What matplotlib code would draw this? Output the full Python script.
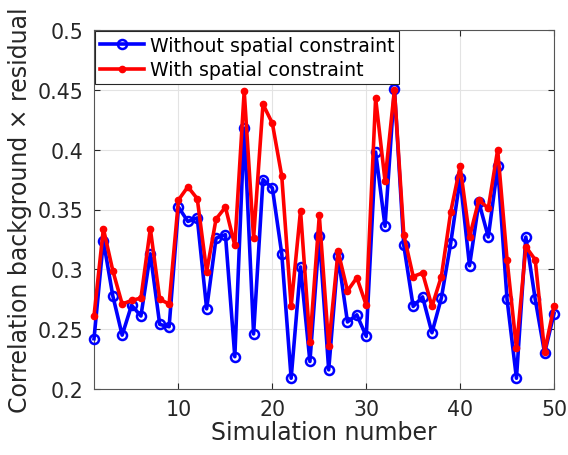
import matplotlib
matplotlib.use("Agg")
import matplotlib.pyplot as plt
import numpy as np

sim = list(range(1, 51))
without_sc = [0.242, 0.324, 0.278, 0.245, 0.270, 0.261, 0.313, 0.254, 0.252, 0.352,
              0.340, 0.343, 0.267, 0.326, 0.329, 0.227, 0.418, 0.246, 0.375, 0.368,
              0.313, 0.209, 0.302, 0.223, 0.328, 0.216, 0.311, 0.256, 0.262, 0.244,
              0.398, 0.336, 0.451, 0.320, 0.269, 0.277, 0.247, 0.276, 0.322, 0.376,
              0.303, 0.356, 0.327, 0.386, 0.275, 0.209, 0.327, 0.275, 0.230, 0.263]
with_sc = [0.261, 0.334, 0.299, 0.271, 0.274, 0.276, 0.334, 0.275, 0.271, 0.358,
           0.369, 0.359, 0.298, 0.342, 0.352, 0.320, 0.449, 0.326, 0.438, 0.422,
           0.378, 0.269, 0.349, 0.239, 0.345, 0.236, 0.315, 0.282, 0.293, 0.270,
           0.443, 0.374, 0.450, 0.329, 0.294, 0.297, 0.269, 0.294, 0.348, 0.386,
           0.327, 0.358, 0.351, 0.400, 0.308, 0.234, 0.319, 0.308, 0.231, 0.269]
xticks = [10, 20, 30, 40, 50]
yticks = [0.2, 0.25, 0.3, 0.35, 0.4, 0.45, 0.5]
ytick_labels = ["0.2", "0.25", "0.3", "0.35", "0.4", "0.45", "0.5"]

fig = plt.figure(figsize=(5.68, 4.56), dpi=100)
ax = fig.add_axes([94/568, 1-390/456, 460/568, 359/456])

ax.plot(sim, without_sc, color="#0000ff", lw=2.6, marker="o", ms=6.5,
        mfc="none", mec="#0000ff", mew=1.8, label="Without spatial constraint",
        zorder=3, clip_on=False)
ax.plot(sim, with_sc, color="#ff0000", lw=2.6, marker="o", ms=4.5,
        mfc="#ff0000", mec="#ff0000", label="With spatial constraint",
        zorder=4, clip_on=False)

ax.set_xlim(1, 50)
ax.set_ylim(0.2, 0.5)
ax.set_xticks(xticks)
ax.set_yticks(yticks)
ax.set_yticklabels(ytick_labels)
ax.grid(True, color="#e3e3e3", lw=0.8)
ax.set_axisbelow(True)
ax.tick_params(direction="in", length=4, color="#262626", labelsize=14.8,
               labelcolor="#262626", top=True, right=True, width=0.8)
ax.tick_params(axis="y", pad=8)
ax.tick_params(axis="x", pad=7)
for s in ax.spines.values():
    s.set_color("#555555")
    s.set_linewidth(0.8)

ax.set_xlabel("Simulation number", fontsize=17, color="#262626", labelpad=1)
ax.set_ylabel("Correlation background \u00d7 residual", fontsize=17, color="#262626", labelpad=4)

leg = ax.legend(loc="upper left", fontsize=13.6, frameon=True, fancybox=False,
                borderaxespad=0.05, handlelength=2.35, borderpad=0.25, labelspacing=0.3,
                handletextpad=0.3)
leg.get_frame().set_edgecolor("#262626")
leg.get_frame().set_linewidth(0.8)
leg.get_frame().set_alpha(1)
for t in leg.get_texts():
    t.set_color("black")

fig.savefig("out.png", dpi=100)
